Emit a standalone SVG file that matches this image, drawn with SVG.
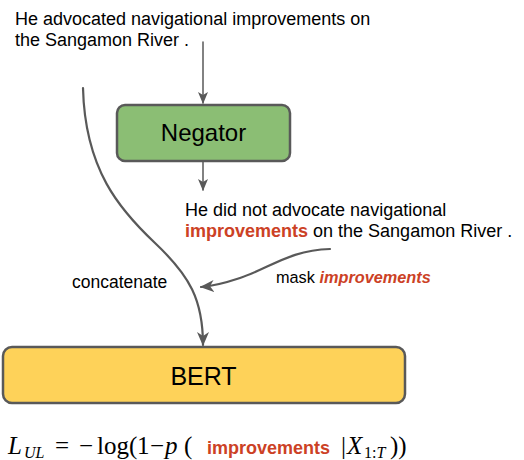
<svg xmlns="http://www.w3.org/2000/svg" width="524" height="460" viewBox="0 0 524 460">
<style>
.t{font-family:"Liberation Sans",Arial,sans-serif;fill:#000}
.r{fill:#cc4125;font-weight:bold}
.m{font-family:"Liberation Serif","Times New Roman",serif;fill:#000}
.c{fill:none;stroke:#595959;stroke-linecap:round}
.box{stroke:#595959;stroke-width:2.5}
</style>
<defs>
<marker id="ah" viewBox="0 0 12 10" refX="11" refY="5" markerWidth="12" markerHeight="10" markerUnits="userSpaceOnUse" orient="auto">
<path d="M0,0 L12,5 L0,10 L3,5 Z" fill="#595959"/>
</marker>
<marker id="ah2" viewBox="0 0 14 12" refX="13" refY="6" markerWidth="14" markerHeight="12" markerUnits="userSpaceOnUse" orient="auto">
<path d="M0,0 L14,6 L0,12 L4,6 Z" fill="#595959"/>
</marker>
</defs>
<rect width="524" height="460" fill="#fff"/>
<g id="input-text">
<text class="t" font-size="18" x="15" y="25">He advocated navigational improvements on</text>
<text class="t" font-size="18" x="15" y="46">the Sangamon River .</text>
</g>
<g id="negator">
<rect class="box" x="117" y="105" width="173" height="56" rx="8" fill="#8bbe74"/>
<text class="t" font-size="24" x="203.5" y="141" text-anchor="middle">Negator</text>
</g>
<g id="negated-text">
<text class="t" font-size="18" x="185" y="216">He did not advocate navigational</text>
<text class="t" font-size="18" x="185" y="237"><tspan class="r">improvements</tspan> on the Sangamon River .</text>
</g>
<g id="bert">
<rect class="box" x="3" y="347" width="402" height="56" rx="9" fill="#fed259"/>
<text class="t" font-size="25" x="203.5" y="385" text-anchor="middle">BERT</text>
</g>
<g id="connectors">
<line class="c" stroke-width="1.5" x1="203" y1="42" x2="203" y2="103" marker-end="url(#ah)"/>
<line class="c" stroke-width="1.5" x1="203" y1="162" x2="203" y2="190" marker-end="url(#ah)"/>
<path class="c" stroke-width="2.2" d="M83,88 C85,170 120,210 155,243 C190,276 203,300 203,345" marker-end="url(#ah2)"/>
<path class="c" stroke-width="2.2" d="M330,249 C290,250 270,268 240,278 C225,283 215,286 201,287" marker-end="url(#ah2)"/>
<text class="t" font-size="17.5" x="72" y="288">concatenate</text>
<text class="t" font-size="16.3" x="276" y="283">mask <tspan class="r" font-style="italic">improvements</tspan></text>
</g>
<g id="formula" font-size="25">
<text class="m" x="8" y="454" font-style="italic">L</text>
<text class="m" x="24" y="458" font-style="italic" font-size="16">UL</text>
<text class="m" x="55" y="454">=</text>
<text class="m" x="79" y="454">−</text>
<text class="m" x="97" y="454">log</text>
<text class="m" x="129" y="454">(</text>
<text class="m" x="137" y="454">1</text>
<text class="m" x="150" y="454">−</text>
<text class="m" x="165" y="454" font-style="italic">p</text>
<text class="m" x="184" y="454">(</text>
<text class="t r" font-size="18" x="207" y="454">improvements</text>
<text class="m" x="341" y="454">|</text>
<text class="m" x="347" y="454" font-style="italic">X</text>
<text class="m" x="364" y="458" font-size="16">1:<tspan font-style="italic">T</tspan></text>
<text class="m" x="390" y="454">))</text>
</g>
</svg>
